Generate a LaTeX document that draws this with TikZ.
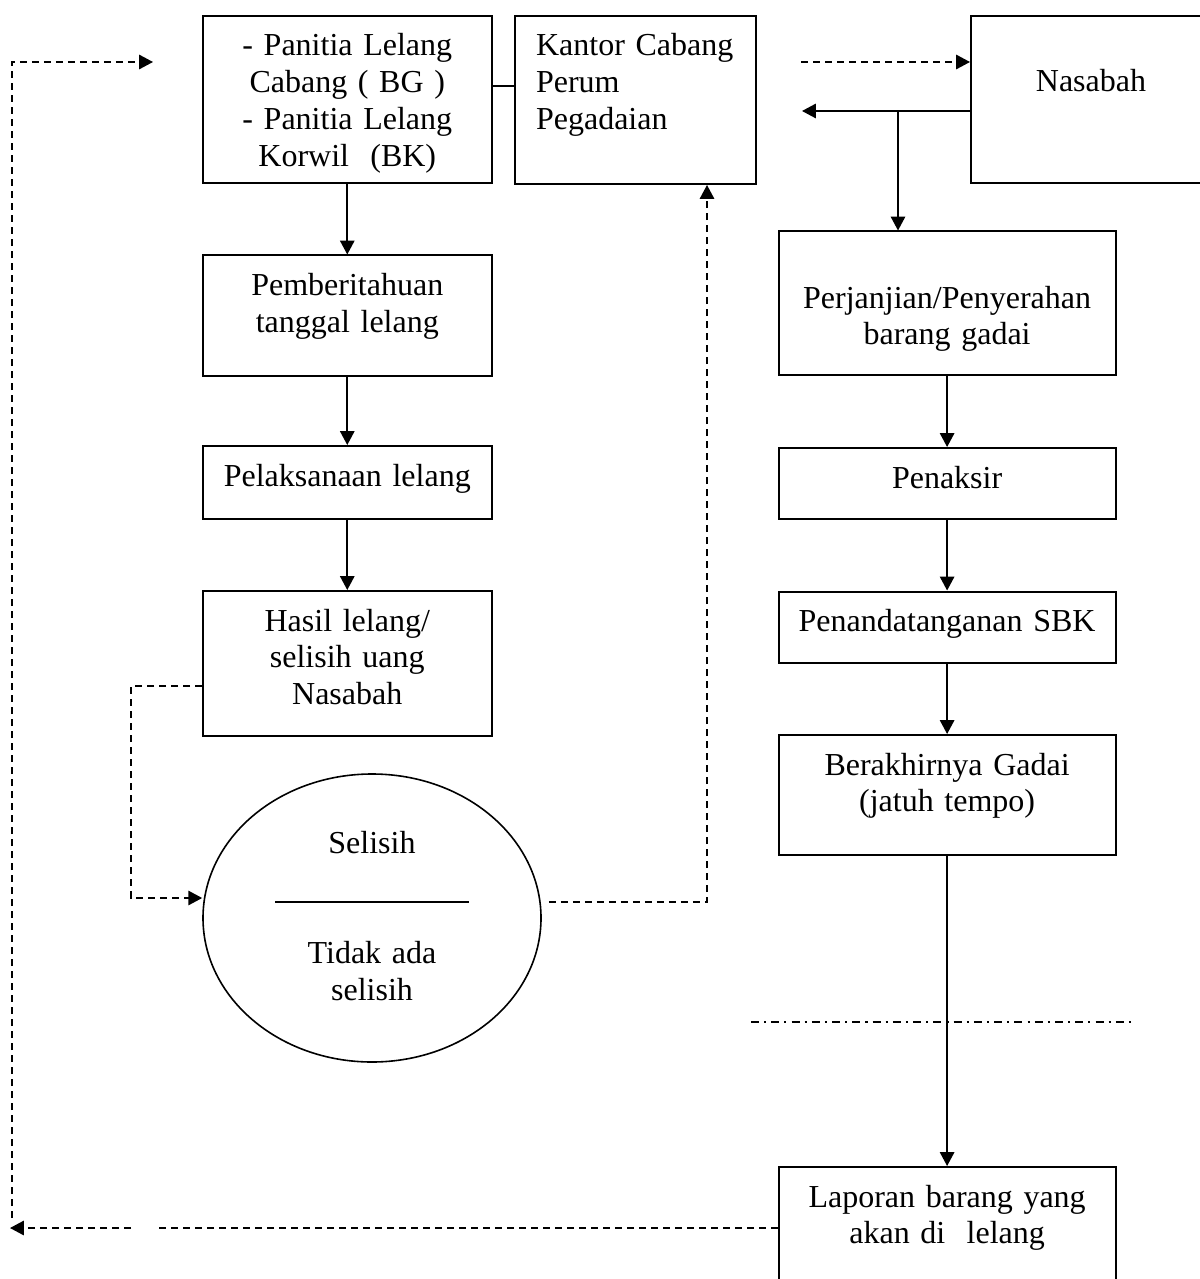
\documentclass[tikz,border=0pt]{standalone}
\usepackage{fontspec}
\setmainfont{Liberation Serif}
\usetikzlibrary{arrows.meta, shapes.geometric, calc}

\begin{document}
\begin{tikzpicture}[x=0.375pt, y=-0.375pt]

\tikzstyle{box}=[draw, line width=0.75pt, align=center, inner xsep=4pt, inner ysep=0pt, text height=15pt, anchor=north west, font=\fontsize{12}{13.8}\selectfont]
\tikzstyle{txt}=[inner sep=0pt, align=center, font=\fontsize{12}{13.8}\selectfont]
\tikzstyle{arr}=[draw, line width=0.6pt, -{Triangle[length=5.2pt, width=5.4pt]}]
\tikzstyle{dashline}=[draw, line width=0.6pt, dash pattern=on 2.7pt off 1.8pt]
\tikzstyle{dasharr}=[dashline, -{Triangle[length=5.2pt, width=5.4pt]}]

\useasboundingbox (0,0) rectangle (1199,1279);

\node (panitia)  [box, text width=100.2pt, text depth=47.8pt] at (202,15) {- Panitia Lelang\\Cabang ( BG )\\- Panitia Lelang\\Korwil~ (BK)};
\node (kantor)   [box, align=left, inner xsep=7.9pt, text width=74.4pt, text depth=48pt] at (514,15) {Kantor~Cabang\\Perum\\Pegadaian};
\node (nasabah)  [box, text width=82pt, text height=28.4pt, text depth=34.2pt] at (970,15) {Nasabah};
\node (pember)   [box, text width=100.2pt, text depth=30.2pt] at (202,254.5) {Pemberitahuan\\tanggal lelang};
\node (pelak)    [box, text width=100.2pt, text depth=12.4pt] at (202,445) {Pelaksanaan lelang};
\node (hasil)    [box, text width=100.2pt, text depth=39.2pt] at (202,590) {Hasil lelang/\\selisih uang\\Nasabah};
\node (perj)     [box, text width=118.3pt, text height=28.7pt, text depth=25.1pt] at (777.7,230.5) {Perjanjian/Penyerahan\\barang gadai};
\node (penaksir) [box, text width=118.3pt, text depth=11.6pt] at (777.7,447) {Penaksir};
\node (sbk)      [box, text width=118.3pt, text depth=11.8pt] at (777.7,590.5) {Penandatanganan SBK};
\node (berakhir) [box, text width=118.3pt, text depth=30pt] at (777.7,734) {Berakhirnya Gadai\\(jatuh tempo)};
\node (laporan)  [box, text width=118.3pt, text depth=50pt] at (777.7,1166) {Laporan barang yang\\akan di~ lelang};

% selisih / tidak ada selisih
\node (sel) [draw, ellipse, line width=0.6pt, inner sep=0pt, minimum width=126.75pt, minimum height=108pt] at (372,918) {};
\node (selisih) [txt, anchor=base] at (372,853) {Selisih};
\node (tidak) [txt, anchor=north, text width=80pt, text height=15pt, text depth=20pt] at (372,923) {Tidak ada\\selisih};
\draw [line width=0.75pt] (275,902) -- (469,902);

\path [arr] (panitia) -- (pember);
\path [arr] (pember) -- (pelak);
\path [arr] (pelak) -- (hasil);
\path [arr] (perj) -- (penaksir);
\path [arr] (penaksir) -- (sbk);
\path [arr] (sbk) -- (berakhir);
\path [arr] (berakhir) -- (laporan);
\draw [line width=0.6pt] (panitia.east |- 0,86) -- (kantor.west |- 0,86);
\path [arr] (nasabah.west |- 0,111) -- (802,111);
\path [arr] (898,111) -- (898,0 |- perj.north);
\path [dasharr] (801,62) -- (nasabah.west |- 0,62);
\path [dasharr] (hasil.west |- 0,686) -| (131,898) -- (sel.west |- 0,898);
\path [dasharr] ($(sel.east)+(7,-16)$) -| (707,0 |- kantor.south);
\path [dashline] (laporan.west |- 0,1228) -- (156,1228);
\path [dasharr] (131,1228) -- (10,1228);
\path [dasharr] (12,1218) -- (12,62) -- (153,62);
\path [draw, line width=0.6pt, dash pattern=on 3pt off 1.9pt on 0.8pt off 1.9pt] (751,1022) -- (1136,1022);
\end{tikzpicture}
\end{document}
